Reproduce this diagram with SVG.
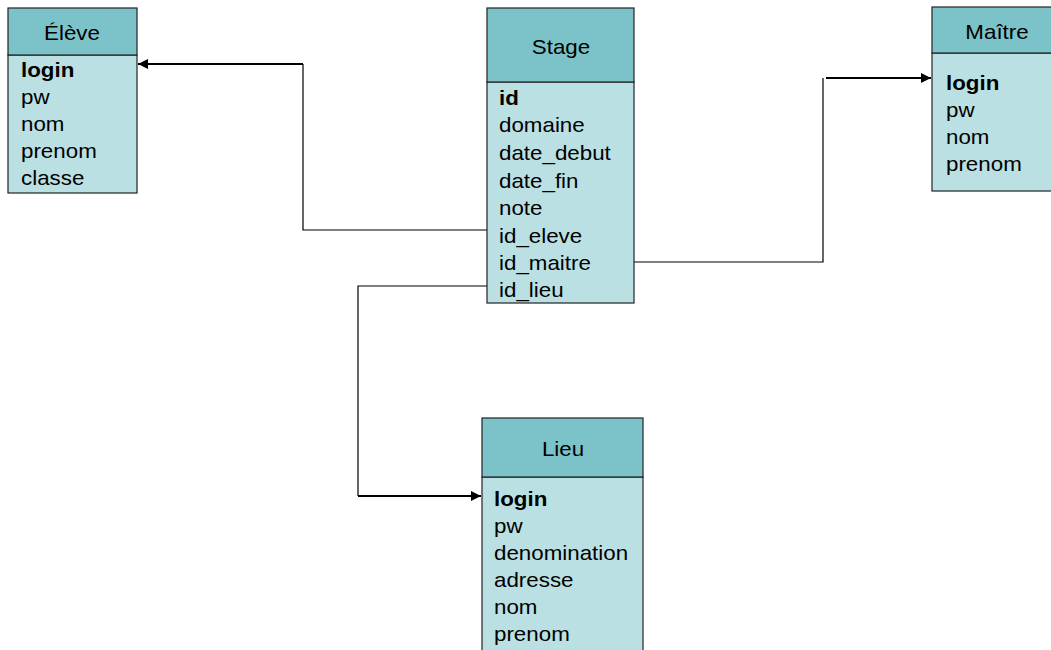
<svg xmlns="http://www.w3.org/2000/svg" width="1051" height="650" viewBox="0 0 1051 650">
<style>
.hd{fill:#7BC3C8;stroke:#222;stroke-width:1.2}
.bd{fill:#BBE0E3;stroke:#222;stroke-width:1.2}
text{font-family:"Liberation Sans",Arial,sans-serif;font-size:20.5px;fill:#000}
.t{text-anchor:middle}
.b{font-weight:bold}
.ln{fill:none;stroke:#000;stroke-width:1.2}
.ar{fill:none;stroke:#000;stroke-width:2}
</style>
<defs>
<marker id="ah" viewBox="0 0 10 10" refX="10" refY="5" markerWidth="5.5" markerHeight="5" orient="auto" markerUnits="strokeWidth">
<path d="M0,0L10,5L0,10z" fill="#000"/>
</marker>
</defs>
<rect width="1051" height="650" fill="#fff"/>
<g id="connectors">
<polyline class="ln" points="487,230 303,230 303,64"/>
<line class="ar" x1="303" y1="64" x2="138" y2="64" marker-end="url(#ah)"/>
<polyline class="ln" points="634,262 823,262 823,78"/>
<line class="ar" x1="826" y1="78" x2="931" y2="78" marker-end="url(#ah)"/>
<polyline class="ln" points="487,286 358,286 358,496"/>
<line class="ar" x1="358" y1="496" x2="481" y2="496" marker-end="url(#ah)"/>
</g>
<g id="eleve">
<rect class="bd" x="8" y="55" width="129" height="138"/>
<rect class="hd" x="8" y="8" width="129" height="47"/>
<g transform="translate(72,0) scale(1.09,1)"><text class="t" x="0" y="40">Élève</text></g>
<g transform="translate(21,0) scale(1.09,1)">
<text class="b" x="0" y="77">login</text>
<text x="0" y="104">pw</text>
<text x="0" y="131">nom</text>
<text x="0" y="158">prenom</text>
<text x="0" y="185">classe</text>
</g>
</g>
<g id="stage">
<rect class="bd" x="487" y="82" width="147" height="221"/>
<rect class="hd" x="487" y="8" width="147" height="74"/>
<g transform="translate(561,0) scale(1.09,1)"><text class="t" x="0" y="54">Stage</text></g>
<g transform="translate(499,0) scale(1.09,1)">
<text class="b" x="0" y="105">id</text>
<text x="0" y="132">domaine</text>
<text x="0" y="160">date_debut</text>
<text x="0" y="188">date_fin</text>
<text x="0" y="215">note</text>
<text x="0" y="243">id_eleve</text>
<text x="0" y="270">id_maitre</text>
<text x="0" y="297">id_lieu</text>
</g>
</g>
<g id="maitre">
<rect class="bd" x="932" y="53" width="130" height="138"/>
<rect class="hd" x="932" y="7" width="130" height="46"/>
<g transform="translate(997,0) scale(1.09,1)"><text class="t" x="0" y="39">Maître</text></g>
<g transform="translate(946,0) scale(1.09,1)">
<text class="b" x="0" y="90">login</text>
<text x="0" y="117">pw</text>
<text x="0" y="144">nom</text>
<text x="0" y="171">prenom</text>
</g>
</g>
<g id="lieu">
<rect class="bd" x="482" y="477" width="161" height="190"/>
<rect class="hd" x="482" y="418" width="161" height="59"/>
<g transform="translate(563,0) scale(1.09,1)"><text class="t" x="0" y="456">Lieu</text></g>
<g transform="translate(494,0) scale(1.09,1)">
<text class="b" x="0" y="506">login</text>
<text x="0" y="533">pw</text>
<text x="0" y="560">denomination</text>
<text x="0" y="587">adresse</text>
<text x="0" y="614">nom</text>
<text x="0" y="641">prenom</text>
</g>
</g>
</svg>
